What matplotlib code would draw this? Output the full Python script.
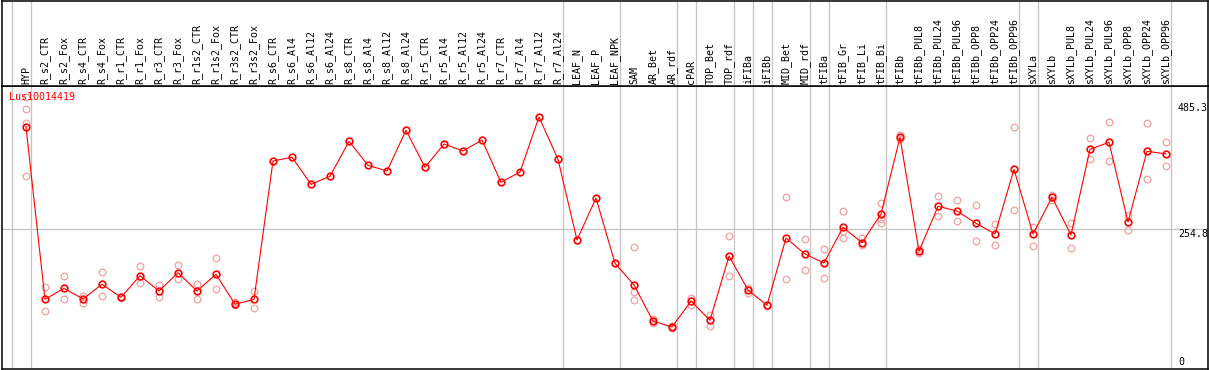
import matplotlib
matplotlib.use("Agg")
import matplotlib.pyplot as plt
import numpy as np

categories = ["HYP", "R_s2_CTR", "R_s2_Fox", "R_s4_CTR", "R_s4_Fox", "R_r1_CTR", "R_r1_Fox",
              "R_r3_CTR", "R_r3_Fox", "R_r1s2_CTR", "R_r1s2_Fox", "R_r3s2_CTR", "R_r3s2_Fox",
              "R_s6_CTR", "R_s6_Al4", "R_s6_Al12", "R_s6_Al24", "R_s8_CTR", "R_s8_Al4",
              "R_s8_Al12", "R_s8_Al24", "R_r5_CTR", "R_r5_Al4", "R_r5_Al12", "R_r5_Al24",
              "R_r7_CTR", "R_r7_Al4", "R_r7_Al12", "R_r7_Al24", "LEAF_N", "LEAF_P", "LEAF_NPK",
              "SAM", "AR_Bet", "AR_rdf", "cPAR", "TOP_Bet", "TOP_rdf", "iFIBa", "iFIBb",
              "MID_Bet", "MID_rdf", "tFIBa", "tFIB_Gr", "tFIB_Li", "tFIB_Bi", "tFIBb",
              "tFIBb_PUL8", "tFIBb_PUL24", "tFIBb_PUL96", "tFIBb_OPP8", "tFIBb_OPP24",
              "tFIBb_OPP96", "sXYLa", "sXYLb", "sXYLb_PUL8", "sXYLb_PUL24", "sXYLb_PUL96",
              "sXYLb_OPP8", "sXYLb_OPP24", "sXYLb_OPP96"]

mean_values = [441.3, 125.3, 145.5, 125.9, 152.9, 129.0, 168.6, 140.6, 174.1, 140.6, 171.2,
               116.2, 125.3, 379.0, 385.8, 336.2, 350.9, 415.1, 371.1, 360.6, 435.3, 367.4,
               410.1, 397.3, 417.5, 339.9, 358.8, 459.7, 382.1, 234.1, 311.1, 191.4, 151.6,
               85.5, 74.5, 122.2, 86.8, 204.7, 142.4, 114.3, 237.8, 208.4, 191.9, 257.4,
               229.1, 281.8, 422.4, 213.4, 295.9, 287.3, 264.7, 245.1, 363.7, 245.1, 312.4,
               243.3, 400.4, 413.3, 267.1, 396.8, 391.8]

N = None
rep_a = [496.9, 147.9, 168.1, 131.9, 175.4, 130.0, 185.9, 151.6, 188.2, 153.4, 201.1, 119.8, 141.1,
         N, N, N, N, N, N, N, N, N, N, N, N, N, N, N, N, N, N, N,
         221.3, 88.7, 75.5, 128.3, 96.6, 241.4, 146.1, 115.4, 312.4, 235.9, 217.6, 287.1,
         238.3, 301.4, 426.6, 217.0, 314.2, 306.9, 297.7, 262.9, 440.8, 257.4, 317.2,
         264.7, 420.6, 449.9, 280.5, 448.7, 413.8]
rep_b = [474.3, 103.9, 125.3, 118.0, 130.8, 128.0, 154.7, 129.0, 162.0, 125.3, 143.7, 114.9, 109.9,
         N, N, N, N, N, N, N, N, N, N, N, N, N, N, N, N, N, N, N,
         138.2, 81.3, 73.5, 114.9, 75.8, 168.1, 137.4, 113.1, 162.0, 178.5, 163.9, 237.2,
         224.9, 265.8, 418.8, 209.7, 277.6, 268.4, 231.7, 224.9, 288.6, 223.1, 307.4,
         218.9, 382.1, 378.4, 252.4, 345.4, 369.2]
rep_c = [448.1, N, N, N, N, N, N, N, N, N, N, N, N,
         N, N, N, N, N, N, N, N, N, N, N, N, N, N, N, N, N, N, N,
         124.1, N, N, N, N, N, N, N, N, N, N, 249.7,
         N, 272.0, N, N, N, N, N, N, N, N, N,
         N, N, N, N, N, N]
rep_d = [352.0] + [N] * 60

gene_name = "Lus10014419"
group_ends = ["HYP", "R_r7_Al24", "LEAF_NPK", "AR_rdf", "cPAR", "TOP_rdf", "iFIBa", "iFIBb",
              "MID_rdf", "tFIBa", "tFIB_Bi", "tFIBb_OPP96", "sXYLa", "sXYLb_OPP96"]
y_tick_values = [485.3, 254.8, 0]
y_tick_labels = ["485.3", "254.8", "0"]

# ---------------- layout ----------------
W, H = 1209, 370
fig = plt.figure(figsize=(W / 100, H / 100), dpi=100)
fig.patch.set_facecolor("white")

font = dict(family="DejaVu Sans Mono", size=7.2)

px0, px1 = 2.0, 1207.5       # frame left/right in pixels
xstep, x0pix = 19.0, 26.0    # pixel position of the first category and spacing
xlim = ((px0 - x0pix) / xstep, (px1 - x0pix) / xstep)

top_sep = 85.7               # pixel y of the separator between labels and plot
bot_pix = 369.0
scale = 0.5453               # px per unit
zero_pix = 367.65
ylim = ((zero_pix - bot_pix) / scale, (zero_pix - top_sep) / scale)

ax = fig.add_axes([px0 / W, (H - bot_pix) / H, (px1 - px0) / W, (bot_pix - top_sep) / H])
axl = fig.add_axes([px0 / W, (H - top_sep) / H, (px1 - px0) / W, (top_sep - 0.6) / H])

for a in (ax, axl):
    a.set_xlim(*xlim)
    a.set_xticks([])
    a.set_yticks([])
    for s in a.spines.values():
        s.set_color("black")
        s.set_linewidth(1.1)
    a.set_facecolor("white")

ax.set_ylim(*ylim)
axl.set_ylim(top_sep - 0.6, 0)   # pixel-like coordinates, top down

x = np.arange(len(categories))

# group separators
sep_pos = [-1 + 0.24] + [categories.index(c) + 0.24 for c in group_ends]
for sx in sep_pos:
    ax.axvline(sx, color="#c4c4c4", lw=0.9, zorder=1)
    axl.axvline(sx, color="#c4c4c4", lw=0.9, zorder=1)

# horizontal reference line
ax.axhline(y_tick_values[1], color="#c4c4c4", lw=0.9, zorder=1)

# replicates
def to_arr(v):
    return np.array([np.nan if e is None else e for e in v], dtype=float)

for rep in (rep_a, rep_b, rep_c, rep_d):
    ax.plot(x, to_arr(rep), linestyle="none", marker="o", ms=4.8, mfc="none",
            mec="#f2a0a0", mew=0.9, zorder=2)

# mean line
ax.plot(x, mean_values, color="#ff0000", lw=0.8, marker="o", ms=4.8, mfc="none",
        mec="#ff0000", mew=1.2, zorder=3)

# right-hand value labels
lab_x = (1178 - x0pix) / xstep
for v, t in zip(y_tick_values, y_tick_labels):
    if v == 0:
        ax.text(lab_x, (zero_pix - 365.0) / scale, t, ha="left", va="baseline",
                color="black", **font)
    else:
        ax.text(lab_x, v, t, ha="left", va="top", color="black", **font)

# gene name
ax.text(xlim[0] + (9.5 - px0) / xstep, (zero_pix - 92.5) / scale, gene_name,
        ha="left", va="top", color="#ff0000", **font)

# category labels
for i, c in enumerate(categories):
    axl.text(i, 83.0, c, rotation=90, ha="center", va="bottom", color="black", **font)

fig.savefig("out.png", dpi=100, facecolor="white")
